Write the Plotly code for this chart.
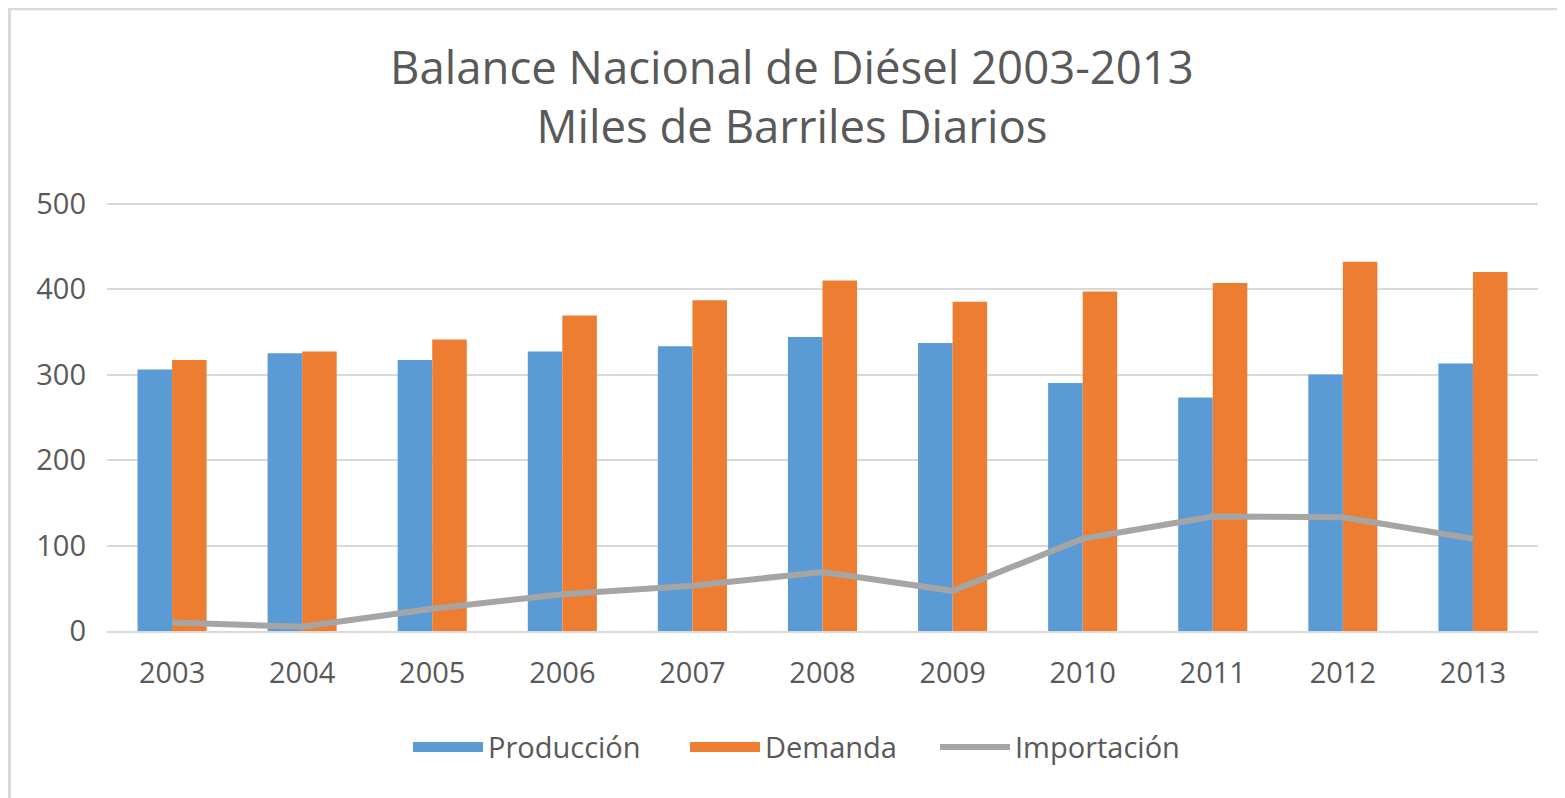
import plotly.graph_objects as go

years = ["2003", "2004", "2005", "2006", "2007", "2008", "2009", "2010", "2011", "2012", "2013"]
produccion = [306, 325, 317, 327, 333, 344, 337, 290, 273, 300, 313]
demanda = [317, 327, 341, 369, 387, 410, 385, 397, 407, 432, 420]
importacion = [10, 5, 26, 43, 53, 69, 47, 108, 134, 133, 108]

# page body has an 8px margin: figure fits the remaining viewport
OFF = 8
W, H = 1565 - OFF, 798 - OFF
YMAX = 510
L, R, B = 107 - OFF, 27, 167
T = 204 - OFF - (YMAX - 500) * (427 / 500)
pw = W - L - R
ph = H - T - B

BLUE, ORANGE, GRAY = "#5B9BD5", "#ED7D31", "#A5A5A5"

fig = go.Figure()
fig.add_trace(go.Bar(x=years, y=produccion, name="Producción", marker_color=BLUE,
                     marker_line_width=0, legendgroup="p", showlegend=False))
fig.add_trace(go.Bar(x=years, y=demanda, name="Demanda", marker_color=ORANGE,
                     marker_line_width=0, legendgroup="d", showlegend=False))
fig.add_trace(go.Scatter(x=years, y=importacion, name="Importación", mode="lines",
                         line=dict(color=GRAY, width=6), legendgroup="i", showlegend=False))
# legend entries
fig.add_trace(go.Scatter(x=[None], y=[None], name="Producción", mode="lines",
                         line=dict(color=BLUE, width=17), legendgroup="p", legendwidth=192))
fig.add_trace(go.Scatter(x=[None], y=[None], name="Demanda", mode="lines",
                         line=dict(color=ORANGE, width=17), legendgroup="d", legendwidth=165))
fig.add_trace(go.Scatter(x=[None], y=[None], name="Importación", mode="lines",
                         line=dict(color=GRAY, width=6), legendgroup="i", legendwidth=185))

def px_x(p):
    return (p - OFF - L) / pw

def px_y(p):
    return (H - B - (p - OFF)) / ph

fig.add_shape(type="rect", xref="paper", yref="paper",
              x0=px_x(9.5), x1=px_x(1600), y0=px_y(850), y1=px_y(9.5),
              line=dict(color="#D9D9D9", width=3), fillcolor="rgba(0,0,0,0)", layer="below")

fig.update_layout(
    width=W, height=H,
    margin=dict(l=L, r=R, t=T, b=B, autoexpand=False),
    paper_bgcolor="white", plot_bgcolor="white",
    font=dict(family="Open Sans", color="#595959"),
    title=dict(text="Balance Nacional de Diésel 2003-2013<br>Miles de Barriles Diarios",
               x=(792 - OFF) / W, xanchor="center", y=1 - 76 / H, yanchor="middle",
               xref="container", yref="container",
               font=dict(size=45.5, color="#595959", family="Open Sans")),
    barmode="group", bargap=0.469, bargroupgap=0,
    showlegend=True,
    legend=dict(orientation="h", x=px_x(408), xanchor="left", y=px_y(747), yanchor="middle",
                font=dict(size=29, color="#595959"), traceorder="normal", itemwidth=70),
    xaxis=dict(showgrid=False, showline=True, linecolor="#D9D9D9", linewidth=2,
               tickfont=dict(size=29, color="#595959"), ticks="", ticklabelstandoff=15),
    yaxis=dict(range=[0, YMAX], tickvals=[0, 100, 200, 300, 400, 500], showgrid=True,
               gridcolor="#D9D9D9", gridwidth=2,
               zeroline=False, tickfont=dict(size=29, color="#595959"), ticks="",
               ticklabelstandoff=20),
)

fig.write_html("out.html")
